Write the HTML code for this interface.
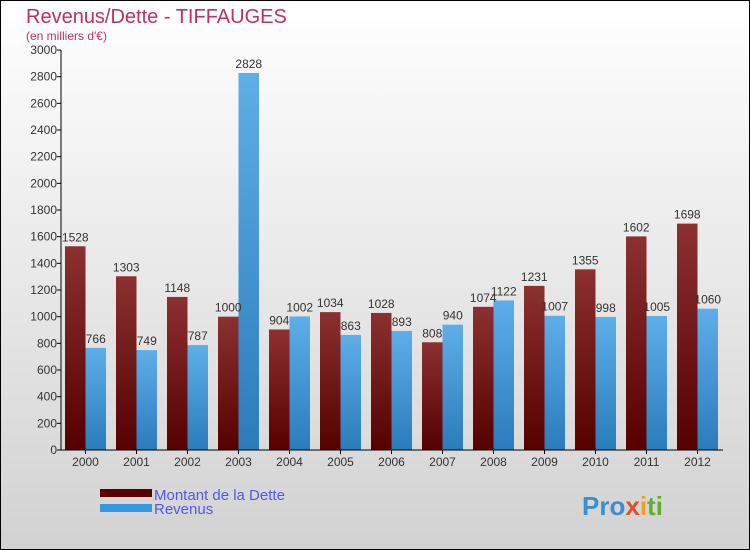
<!DOCTYPE html>
<html><head><meta charset="utf-8"><style>
body{margin:0}
svg{display:block;font-family:"Liberation Sans",sans-serif}
</style></head><body>
<svg width="750" height="550" viewBox="0 0 750 550">
<defs>
<linearGradient id="bg" x1="0" y1="0" x2="0" y2="1"><stop offset="0" stop-color="#ffffff"/><stop offset="1" stop-color="#d2d2d2"/></linearGradient>
<linearGradient id="gd" x1="0" y1="0" x2="0" y2="1"><stop offset="0" stop-color="#8c3030"/><stop offset="1" stop-color="#560000"/></linearGradient>
<linearGradient id="gr" x1="0" y1="0" x2="0" y2="1"><stop offset="0" stop-color="#5eaee8"/><stop offset="1" stop-color="#2a7cba"/></linearGradient>
</defs>
<rect x="0.5" y="0.5" width="749" height="549" fill="url(#bg)" stroke="#000"/>
<text x="26" y="23" font-size="20" fill="#c03060">Revenus/Dette - TIFFAUGES</text>
<text x="26" y="40" font-size="12" fill="#c03060">(en milliers d'€)</text>
<g id="plot"></g>
<g>
<rect x="100" y="489" width="52" height="8" fill="#5a0000"/>
<text x="154" y="500" font-size="15" fill="#5555ee">Montant de la Dette</text>
<rect x="100" y="504" width="52" height="8" fill="#3399e0"/>
<text x="154" y="514" font-size="15" fill="#5555ee">Revenus</text>
</g>
<text x="582" y="515" font-size="26" font-weight="bold"><tspan fill="#3a8fd0">Pro</tspan><tspan fill="#e05020">x</tspan><tspan fill="#f0a020">i</tspan><tspan fill="#60b030">ti</tspan></text>
</svg>
<script>
const years=["2000","2001","2002","2003","2004","2005","2006","2007","2008","2009","2010","2011","2012"];
const dette=[1528,1303,1148,1000,904,1034,1028,808,1074,1231,1355,1602,1698];
const revenus=[766,749,787,2828,1002,863,893,940,1122,1007,998,1005,1060];
const yTicks=[0,200,400,600,800,1000,1200,1400,1600,1800,2000,2200,2400,2600,2800,3000];
const NS="http://www.w3.org/2000/svg";
const g=document.getElementById('plot');
const y0=450,y1=50,vmax=3000,xL=61,step=51,bw=20.5,first=65;
const y=v=>y0-(v/vmax)*(y0-y1);
function mk(t,a,txt){const e=document.createElementNS(NS,t);for(const k in a)e.setAttribute(k,a[k]);if(txt!==undefined)e.textContent=txt;g.appendChild(e);return e;}
yTicks.forEach(v=>{
 const l=mk('line',{x1:xL-4,x2:xL,y1:y(v),y2:y(v),stroke:'#000'});
 
 
 const t=mk('text',{x:xL-4,y:y(v)+4,'font-size':12,'text-anchor':'end',fill:'#333'},v);
 
 
});
years.forEach((yr,i)=>{
 const x=first+i*step;
 const b1=mk('rect',{x:x,y:y(dette[i]),width:bw,height:y0-y(dette[i]),fill:'url(#gd)'});
 
 
 const b2=mk('rect',{x:x+bw,y:y(revenus[i]),width:bw,height:y0-y(revenus[i]),fill:'url(#gr)'});
 
 
 const t1=mk('text',{x:x+bw/2,y:y(dette[i])-5,'font-size':12,'text-anchor':'middle',fill:'#333'},dette[i]);
 
 
 const t2=mk('text',{x:x+bw*1.5,y:y(revenus[i])-5,'font-size':12,'text-anchor':'middle',fill:'#333'},revenus[i]);
 
 
 const tk=mk('line',{x1:x+bw,x2:x+bw,y1:y0,y2:y0+4,stroke:'#000'});
 
 
 const xl=mk('text',{x:x+bw,y:y0+16,'font-size':12,'text-anchor':'middle',fill:'#333'},yr);
 
 
});
const ax=mk('line',{x1:xL,x2:xL,y1:y1,y2:y0,stroke:'#000'});


const axx=mk('line',{x1:xL,x2:723,y1:y0,y2:y0,stroke:'#000'});


</script>
</body></html>
